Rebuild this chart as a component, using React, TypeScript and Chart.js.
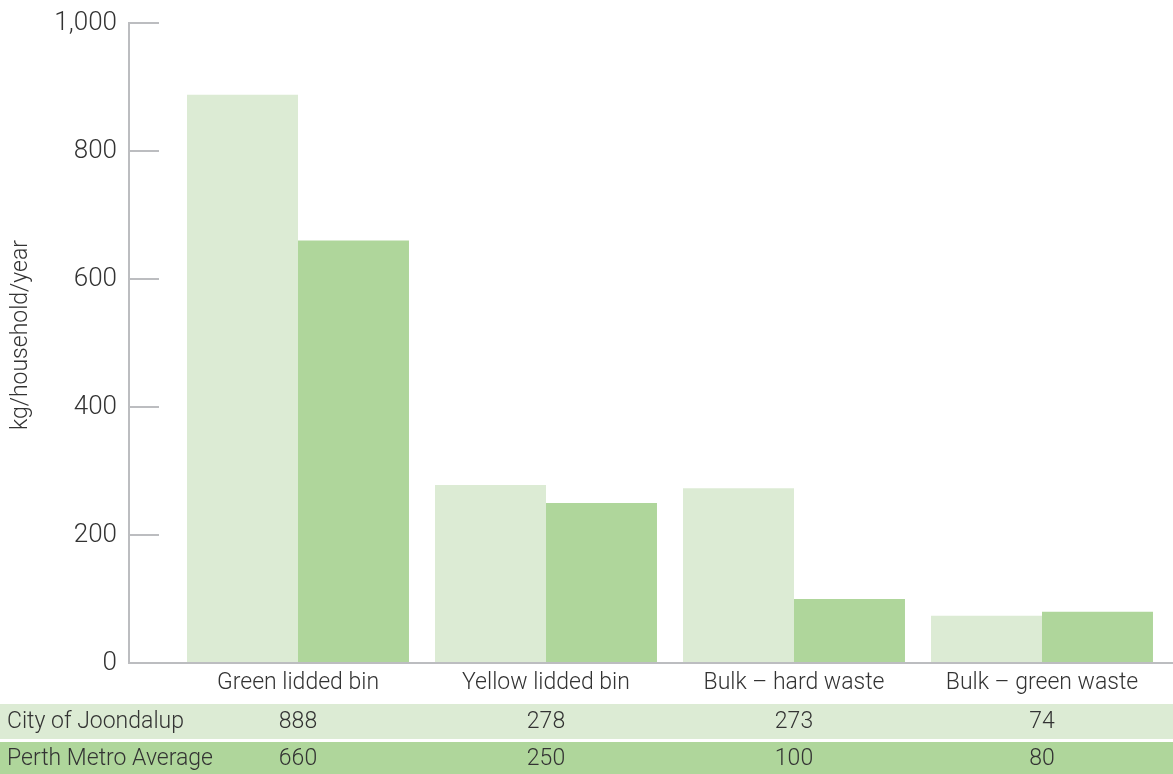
import React, { useEffect, useRef } from "react";
import { Chart, registerables } from "chart.js";

Chart.register(...registerables);

// Waste collected per household, kg/household/year
const categories = ["Green lidded bin", "Yellow lidded bin", "Bulk – hard waste", "Bulk – green waste"];
const seriesNames = ["City of Joondalup", "Perth Metro Average"];
const joondalup = [888, 278, 273, 74];
const perthMetro = [660, 250, 100, 80];
const yTicks = [0, 200, 400, 600, 800, 1000];
const yTitle = "kg/household/year";

const LIGHT = "#dcebd4";
const DARK = "#afd69b";
const AXIS = "#bcbdc0";
const TEXT = "#333333";
const FONT = "Roboto, 'Liberation Sans', sans-serif";

const fmt = (v: number) => v.toLocaleString("en-US");

const tablePlugin = {
  id: "wasteTable",
  afterDatasetsDraw(chart: any) {
    const { ctx, scales, width } = chart;
    const x = scales.x;
    const y = scales.y;
    const axisX = 129;
    ctx.save();

    // y axis line with inward ticks, plus the baseline
    ctx.strokeStyle = AXIS;
    ctx.lineWidth = 2;
    ctx.beginPath();
    ctx.moveTo(axisX, y.getPixelForValue(yTicks[yTicks.length - 1]) - 1);
    ctx.lineTo(axisX, y.getPixelForValue(0));
    ctx.lineTo(width, y.getPixelForValue(0));
    ctx.stroke();
    yTicks.forEach((t) => {
      if (t === 0) return;
      const py = y.getPixelForValue(t);
      ctx.beginPath();
      ctx.moveTo(axisX, py);
      ctx.lineTo(159, py);
      ctx.stroke();
    });

    // tick labels
    ctx.fillStyle = TEXT;
    ctx.font = `300 26px ${FONT}`;
    ctx.textAlign = "right";
    ctx.textBaseline = "middle";
    yTicks.forEach((t) => {
      ctx.fillText(fmt(t), 117, y.getPixelForValue(t));
    });

    // axis title
    ctx.save();
    ctx.translate(21, 335);
    ctx.rotate(-Math.PI / 2);
    ctx.textAlign = "center";
    ctx.font = `300 23px ${FONT}`;
    ctx.fillText(yTitle, 0, 0);
    ctx.restore();

    // category labels
    ctx.textAlign = "center";
    ctx.font = `300 23px ${FONT}`;
    categories.forEach((c, i) => {
      ctx.fillText(c, x.getPixelForValue(i), 683);
    });

    // data table rows
    const rows = [
      { name: seriesNames[0], values: joondalup, color: LIGHT, top: 704, h: 35 },
      { name: seriesNames[1], values: perthMetro, color: DARK, top: 742, h: 32 },
    ];
    rows.forEach((r) => {
      ctx.fillStyle = r.color;
      ctx.fillRect(0, r.top, width, r.h);
      ctx.fillStyle = TEXT;
      ctx.font = `300 23px ${FONT}`;
      ctx.textAlign = "left";
      ctx.fillText(r.name, 7, r.top + r.h / 2 + 1);
      ctx.textAlign = "center";
      r.values.forEach((v, i) => {
        ctx.fillText(fmt(v), x.getPixelForValue(i), r.top + r.h / 2 + 1);
      });
    });
    ctx.restore();
  },
};

export default function App() {
  const canvasRef = useRef<HTMLCanvasElement | null>(null);

  useEffect(() => {
    document.body.style.margin = "0";
    const canvas = canvasRef.current;
    if (!canvas) return;
    const chart = new Chart(canvas, {
      type: "bar",
      data: {
        labels: categories,
        datasets: [
          { label: seriesNames[0], data: joondalup, backgroundColor: LIGHT },
          { label: seriesNames[1], data: perthMetro, backgroundColor: DARK },
        ],
      },
      options: {
        animation: false,
        responsive: false,
        maintainAspectRatio: false,
        layout: { padding: { left: 174, right: 7, top: 23, bottom: 111 } },
        datasets: { bar: { categoryPercentage: 0.895, barPercentage: 1 } },
        scales: {
          x: { display: false },
          y: { display: false, min: 0, max: 1000 },
        },
        plugins: { legend: { display: false }, tooltip: { enabled: false } },
      },
      plugins: [tablePlugin],
    });
    return () => chart.destroy();
  }, []);

  return (
    <div style={{ width: 1173, height: 774, background: "#ffffff" }}>
      <canvas ref={canvasRef} width={1173} height={774} />
    </div>
  );
}
